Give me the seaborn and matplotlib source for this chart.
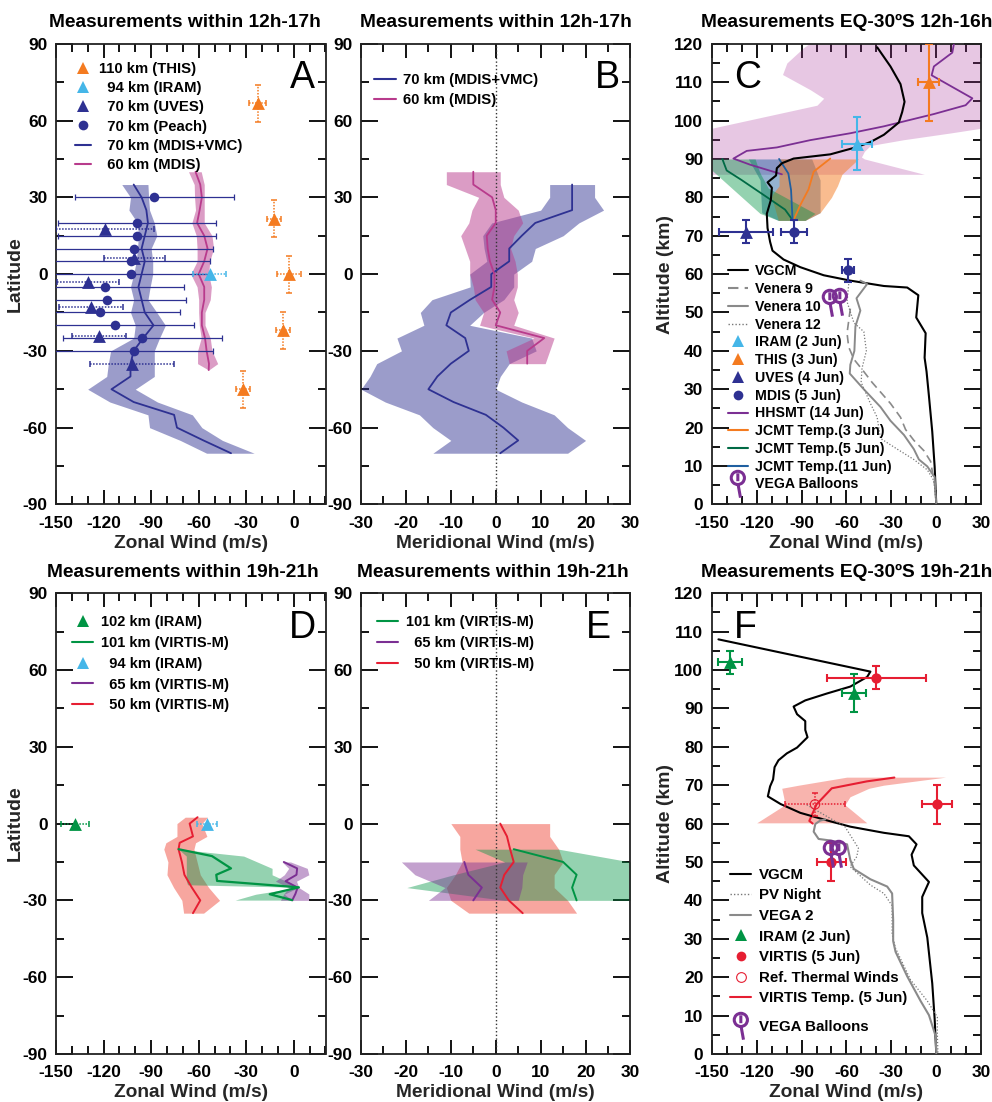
import numpy as np
import matplotlib
matplotlib.use('Agg')
import matplotlib.pyplot as plt
from matplotlib.lines import Line2D
from matplotlib.path import Path
from matplotlib.transforms import Affine2D
from matplotlib.ticker import MultipleLocator
import seaborn as sns

# ── colours ─────────────────────────────────────────────
NAVY = '#2E3192'
PINK = '#B83B8C'
ORANGE = '#F47B20'
SKY = '#45B6E8'
GREEN = '#009444'
PURPLE = '#7B2F93'
RED = '#E61E32'
SALMON = '#EE3A2A'
LILAC = '#A8329A'
TEAL = '#1F5FA0'
GREY = '#8A8A8A'

# ── Panel A / B: 12h-17h, latitude profiles ─────────────
lat70 = [35, 30, 25, 20, 15, 10, 5, 0, -5, -10, -15, -20, -25, -30, -35, -40, -45, -50, -55, -60, -65, -70]
a70_mid = [-101, -96, -93, -92, -94, -96, -94, -96, -98, -96, -94, -88.5, -95, -101, -103, -103, -115, -101, -75.5, -73.7, -57, -39.6]
a70_low = [-108.5, -103, -104, -98.6, -98, -98.6, -99.4, -101, -103, -101, -103, -100, -101, -115.5, -117, -118, -130, -116, -92, -91, -71.6, -55]
a70_high = [-92, -91.6, -91, -88, -86.4, -90, -89, -89, -90.6, -92, -86.4, -81, -84.7, -88, -88, -88, -100, -86, -64, -58, -45, -25]

lat60 = [40, 35, 30, 25, 20, 15, 10, 5, 0, -5, -10, -15, -20, -25, -30, -35, -37.5]
a60_mid = [-62, -59, -58, -59.4, -61, -56.5, -54.4, -56.5, -60, -56.5, -56.5, -58, -58, -56, -55, -53.5, -53.7]
a60_low = [-66.4, -62.8, -62.6, -62, -64.3, -61.5, -61, -61, -65, -61, -60, -60, -59.6, -58.4, -60.7, -60.7, -53.7]
a60_high = [-58.4, -56.5, -56.5, -56.5, -56.5, -51.6, -50.6, -53, -53.7, -52, -52.7, -56, -56, -52.7, -51.6, -48, -53.7]

peach_x = [-88, -99, -99, -100.7, -103, -102.6, -119, -118, -122, -113, -95.6, -100.7]
peach_lat = [30, 20, 15, 10, 5, 0, -5, -10, -15, -20, -25, -30]
peach_err = [50] * 12

uves_x = [-119, -100.7, -130, -128, -123, -102]
uves_lat = [17.7, 6.4, -3, -13, -24.2, -35]
uves_err = [31, 19.3, 19.5, 20, 17, 26.5]

this_x = [-22.8, -12.2, -3, -7, -32]
this_lat = [66.7, 21.7, 0, -22, -45]
this_xerr = [5.3, 4.4, 7.5, 4.4, 4.2]
this_yerr = [7.2, 7.2, 7.2, 7.2, 7.2]

b70_mid = [17, 17, 17, 8.8, 5.8, 3, 3, -1, -1, -5.7, -10, -11, -6.8, -6, -10, -13, -15, -9.4, -2.2, 1.7, 5, 1]
b70_low = [12, 12, 10, -0.9, -2.9, -2.6, -2, -5.8, -5.7, -14.2, -16.8, -16, -22, -21, -26.5, -28, -30, -24.6, -17, -14, -10, -14]
b70_high = [22, 22, 24, 18.5, 15, 8.8, 8, 4, 4, 1.8, -2.7, -5.8, 8, 9, 3, 1, 0, 5.8, 13, 16, 20, 16]

lat60b = [40, 35, 30, 25, 20, 15, 10, 5, 0, -5, -10, -15, -20, -25, -30, -35]
b60_mid = [-5, -5, -0.8, 0, 0, -2, -1.8, -1.3, -0.3, -0.3, -0.8, 1, 0, 10.8, 7, 7]
b60_low = [-11, -11, -3.8, -5.3, -6, -7.8, -6.8, -5.8, -5.8, -5, -4.6, -2.7, -3.6, 8.5, 2.3, 3]
b60_high = [1, 1, 1.8, 5, 6, 4, 3.3, 4.3, 4.8, 4.8, 4, 5, 4, 13, 12, 11]

# ── Panel C: EQ-30S 12h-16h, altitude profiles ──────────
vgcm_c_x = [-39.5, -30.6, -23.9, -21.2, -22.8, -25, -35, -44, -53, -70.8, -95.3, -103, -106.5, -107, -112.7, -109.8, -110.5, -113.2, -112.7, -111, -109.4, -102, -90.8, -75.2, -57.4, -35, -19.4, -12, -13.4, -7.1, -7.8, -6.5, -4.9, -2.7, -1.1, 0]
vgcm_c_z = [119.1, 114.1, 109.5, 104.9, 102.2, 99.5, 96.3, 94.4, 93.1, 91.2, 90.1, 88.9, 87.6, 85.7, 83.9, 82.5, 79.3, 75.7, 72, 68.4, 66.1, 63.8, 61.8, 59.7, 58.3, 56.9, 56.5, 54.5, 48.7, 44.6, 38.2, 34.6, 28.2, 19, 9.9, 0]
ven10_x = [-50.7, -46.2, -53.3, -50.7, -54, -54.7, -57.4, -57.8, -48.4, -37.3, -30.6, -21.6, -15, -11.6, -6, -1.1, 0]
ven10_z = [58.3, 57.4, 53.7, 50.5, 46.4, 40, 36.4, 34.1, 30, 25.4, 21.8, 18.1, 14.4, 11.7, 9.9, 7.1, 0]
ven9_x = [-57.4, -59.6, -58.5, -55, -48.4, -42.9, -30.6, -23.9, -20.5, -15, -8.3, -3.8, -0.4]
ven9_z = [51, 44.6, 41, 37.8, 34.6, 31.8, 26.3, 22.7, 19.5, 16.7, 14, 11.2, 3.5]
ven12_x = [-58.5, -59.6, -55, -48.4, -46.7, -49.6, -50.2, -44, -39.5, -37.3, -26.1, -15, -6, -1.6, 0]
ven12_z = [57.4, 52.8, 47.3, 45, 40, 35.5, 31.8, 26.3, 22.7, 17.2, 14.4, 11.7, 9, 6.2, 0]
hhsmt_x = [11.8, 10.7, -1.6, -3.1, 9.6, 24.1, 19.6, -1.6, -35, -57.4, -84.2, -106.5, -126.6, -135.5, -124.3, -103.1]
hhsmt_z = [120, 117.7, 114.1, 111.8, 109, 105.8, 104, 101.7, 98.5, 96.7, 94.9, 93, 92.1, 90.1, 88.5, 86]
hhsmt_band_z = [86, 90, 90.5, 92, 93.5, 95, 96.8, 98, 104, 105.8, 108, 112, 115, 119, 120]
hhsmt_band_low = [-150, -150, -150, -150, -150, -150, -150, -150, -79.7, -75.2, -84, -102.7, -99.8, -88.6, -85]
hhsmt_band_high = [-8, -48, -50, -48, -44, -22, 10, 30, 30, 30, 30, 30, 30, 30, 30]

jcmt3_x = [-70.8, -81.9, -85.3, -90.8, -95.3]
jcmt3_z = [90.1, 86.7, 82.1, 78, 74.1]
jcmt3_band_z = [74, 76, 80, 81, 83, 86, 90]
jcmt3_band_low = [-105.5, -107, -110, -109, -105, -105, -105]
jcmt3_band_high = [-87.6, -77.6, -70, -68.7, -66, -63, -52]
jcmt5_x = [-142.9, -140, -130, -112.2, -101, -96]
jcmt5_z = [90, 87, 84.5, 79.8, 76.8, 74.1]
jcmt5_band_z = [74, 75.8, 82.4, 85.8, 87.1, 90]
jcmt5_band_low = [-105.5, -117.7, -136.6, -146.3, -150, -150]
jcmt5_band_high = [-87.6, -81, -112.2, -117, -118.5, -121]
jcmt11_x = [-105, -98.8, -97, -96]
jcmt11_z = [90, 86.2, 81.9, 74]
jcmt11_band_z = [74, 76, 84.5, 90]
jcmt11_band_low = [-105.5, -116.6, -117.7, -125.5]
jcmt11_band_high = [-87.6, -77.6, -77.6, -83.2]

balloon_c_x = [-70.8, -64.5]
balloon_c_z = [52.5, 52.8]

# ── Panel D / E: 19h-21h, latitude profiles ─────────────
lat50 = [2.5, 0, -5, -7.5, -10, -15, -20, -25, -30, -35]
d50_mid = [-60.7, -65.7, -63.6, -72, -72.7, -70.6, -69, -64.3, -59, -63.6]
d50_low = [-68.5, -73.7, -73.7, -80.7, -82, -79.4, -80, -75.8, -70.6, -69.5]
d50_high = [-54.4, -58, -54.8, -62, -63, -61, -59, -53.7, -46.8, -56.9]

d101_lat = [-10, -12.7, -17.5, -20, -22.4, -24.9, -27.6, -29.9]
d101_mid = [-72.7, -51.6, -39.6, -48.9, -48.4, 3.2, -15.2, -1]
d101_band_lat = [-10, -12.7, -17.5, -20, -22.4, -23.9, -24.9, -27.6, -29.9]
d101_low = [-72.7, -67.8, -67.8, -67.8, -67.8, -67, 3.2, -24, -37]
d101_high = [-72.7, -31.6, -13.7, -13.7, -5.2, 0, 3.2, -6, -1]

d65_lat = [-15, -17.5, -20, -22.5, -25, -27.5, -30]
d65_mid = [-6.3, 2.1, 1.7, -5.2, 2.4, 1, -1]
d65_low = [-7.3, -3.2, -6, -11.6, -3.2, -6.3, -8.4]
d65_high = [-2, 8.5, 9.5, 1.7, 3.2, 9.5, 9.5]

e50_lat = [0, -5, -10, -15, -20, -25, -30, -35]
e50_mid = [1, 2.5, 3.2, 4, 1.9, 1, 2.9, 6]
e50_low = [-10, -8, -8, -7.5, -9, -11, -10, -6]
e50_high = [12, 12, 14, 15, 13, 13, 16, 18]
e101_lat = [-10, -15, -20, -25, -30]
e101_mid = [4, 15, 18, 17, 18]
e101_low = [-4.6, 2, -9.4, -19.8, 2]
e101_high = [14, 30, 30, 30, 30]
e65_lat = [-15, -20, -25, -30]
e65_mid = [-7, -6.1, -3.1, -5]
e65_low = [-21, -18, -11.3, -15]
e65_high = [7, 6, 5.8, 5]

# ── Panel F: EQ-30S 19h-21h, altitude profiles ──────────
vgcm_f_x = [-145.5, -44, -46.2, -57.4, -73, -87.5, -95.3, -93, -87.5, -87.5, -86, -93, -99.8, -105.4, -108, -109, -111, -112.5, -104, -90.8, -70.8, -57.4, -35, -18.3, -13.2, -16.5, -15, -4.9, -9.4, -9.4, -6, -2.7, -1.1, 0]
vgcm_f_z = [108, 99.6, 98.2, 95.7, 93.9, 92.1, 90.5, 88.5, 86.7, 84.4, 82.5, 79.8, 78.3, 76.5, 74.7, 71.5, 69.7, 67.1, 65.1, 62.8, 60.6, 59.2, 57.6, 56.7, 54.6, 51.9, 49.1, 44.8, 40.9, 36.7, 30.3, 18.4, 9.2, 0]
vega2_x = [-74.1, -77.5, -80.8, -81.9, -78.6, -70.8, -59.6, -57.4, -55.1, -44, -32.8, -29.5, -28.8, -28.8, -27.2, -19.4, -10.5, -4.9, -0.4, 0]
vega2_z = [61.1, 60.8, 59.9, 57.9, 56, 55.6, 54.6, 50.5, 48.2, 45.5, 43.6, 41.8, 34.9, 29.4, 26.6, 20.2, 13.8, 10.1, 4.6, 0]
pv_x = [-86.5, -71, -61, -52, -53.1, -57.6, -44, -35, -29.5, -29.5, -27.2, -17.2, -6, 0.7, 0.7, 1.1]
pv_z = [64.9, 61.4, 59.2, 53.6, 51.4, 48.8, 44, 41.8, 38.6, 31.2, 27.5, 19.3, 13.8, 9.6, 5.5, 0]
vtemp_x = [-28, -46.4, -69.8, -80, -84.8, -82.5]
vtemp_z = [72, 71, 69.2, 65, 60.7, 60]
vtemp_band_z = [60.2, 64.9, 67, 69.2, 70, 72.1]
vtemp_band_low = [-119.9, -101, -102, -103.2, -92, -59.8]
vtemp_band_high = [-46.4, -61, -57.6, -45, -35.3, 6.2]

virtis_x = [0.2, -70, -40]
virtis_z = [65, 50, 98]
virtis_xerr = [10, 10, 33]
virtis_zerr = [5, 5, 3]
iram_f_x = [-138, -54.7]
iram_f_z = [102, 94]
iram_f_xerr = [8, 8]
iram_f_zerr = [3, 5]
balloon_f_x = [-70.3, -64.7]
balloon_f_z = [52, 52]

sns.set_theme(style='ticks')
plt.rcParams.update({
    'font.family': ['Liberation Sans', 'DejaVu Sans'],
    'font.weight': 'bold',
    'axes.titleweight': 'bold',
    'axes.labelweight': 'bold',
    'axes.edgecolor': '#222222',
    'axes.linewidth': 1.3,
    'axes.unicode_minus': False,
    'xtick.color': 'black',
    'ytick.color': 'black',
    'text.color': 'black',
})

# balloon glyph used as a marker: open head, small inner mark, stick below
_head = Path.unit_circle().transformed(Affine2D().scale(0.5).translate(-0.05, 0.5))
_inner = Path([(-0.05, 0.85), (-0.05, 0.25)], [Path.MOVETO, Path.LINETO])
_stick = Path([(-0.03, 0.0), (0.15, -1.0)], [Path.MOVETO, Path.LINETO])
BALLOON = Path.make_compound_path(_head, _inner, _stick)

W, H = 992, 1102
XA, XB, XC = 56, 361, 711.7
AW = 269.5
AH = 460.6
ROW1, ROW2 = 43.8, 593.3


def panel(x0, y0, xlim, ylim, xmaj, xmin, ymaj, ymin, title, xlabel, ylabel, letter, lpos, title_x=0.5, ylab_x=-0.119):
    ax = fig.add_axes([x0 / W, 1 - (y0 + AH) / H, AW / W, AH / H])
    ax.set_xlim(*xlim)
    ax.set_ylim(*ylim)
    ax.xaxis.set_major_locator(MultipleLocator(xmaj))
    ax.xaxis.set_minor_locator(MultipleLocator(xmin))
    ax.yaxis.set_major_locator(MultipleLocator(ymaj))
    ax.yaxis.set_minor_locator(MultipleLocator(ymin))
    ax.tick_params(axis='x', which='major', direction='in', top=True, length=10, width=1.3, labelsize=12.5, pad=8)
    ax.tick_params(axis='x', which='minor', direction='in', top=True, length=5.5, width=1.3)
    ax.tick_params(axis='y', which='major', direction='in', right=True, length=12, width=1.3, labelsize=12.5, pad=6)
    ax.tick_params(axis='y', which='minor', direction='in', right=True, length=6, width=1.3)
    ax.set_title(title, fontsize=13.8, x=title_x, pad=12)
    ax.set_xlabel(xlabel, fontsize=13.8, labelpad=3)
    if ylabel:
        ax.set_ylabel(ylabel, fontsize=14)
        ax.yaxis.set_label_coords(ylab_x, 0.5)
    ax.text(lpos[0], lpos[1], letter, transform=ax.transAxes, fontsize=27, fontweight='normal',
            ha='center', va='center', zorder=10)
    return ax


def band(ax, z, low, high, color, alpha):
    ax.fill_betweenx(z, low, high, color=color, alpha=alpha, linewidth=0, zorder=1)


def curve(ax, x, y, color, lw=1.3, ls='-'):
    sns.lineplot(x=x, y=y, sort=False, estimator=None, ax=ax, color=color, linewidth=lw,
                 linestyle=ls, legend=False, zorder=3)


def points(ax, x, y, color, marker, xerr=None, yerr=None, dotted=False, size=80, lw=1.5, cap=3, fill=True):
    eb = ax.errorbar(x, y, xerr=xerr, yerr=yerr, fmt='none', ecolor=color, elinewidth=lw,
                     capsize=cap, capthick=lw, zorder=4)
    if dotted:
        for bar in eb[2]:
            bar.set_linestyle((0, (1, 1)))
    if fill:
        sns.scatterplot(x=x, y=y, ax=ax, color=color, marker=marker, s=size, linewidth=0, legend=False, zorder=5)
    else:
        ax.scatter(x, y, s=size, marker=marker, facecolors='none', edgecolors=color, linewidths=0.8, zorder=5)


def balloons(ax, x, y):
    ax.plot(x, y, ls='none', marker=BALLOON, ms=19, mfc='none', mec=PURPLE, mew=2.2, zorder=6)


def ln(color, ls='-', lw=1.5):
    return Line2D([], [], color=color, ls=ls, lw=lw)


def mk(color, marker, size=9, fill=True):
    return Line2D([], [], ls='none', marker=marker, ms=size, color=color,
                  mfc=color if fill else 'none', mew=0 if fill else 0.8)


def legend(ax, handles, labels, x, y, spacing, hlen, pad=0.5, add=False, size=10.2):
    leg = ax.legend(handles, labels, loc='upper left', bbox_to_anchor=(x, y), borderaxespad=0, borderpad=0,
                    frameon=False, labelspacing=spacing, handlelength=hlen, handletextpad=pad,
                    prop={'family': 'Liberation Sans', 'weight': 'bold', 'size': size})
    leg.set_zorder(8)
    if add:
        ax.add_artist(leg)
    return leg


balloon_handle = Line2D([], [], ls='none', marker=BALLOON, ms=19, mfc='none', mec=PURPLE, mew=2.2)

fig = plt.figure(figsize=(W / 100, H / 100), dpi=100, facecolor='white')

# — Panel A ————————————————————————————————
ax = panel(XA, ROW1, (-150, 20), (-90, 90), 30, 10, 30, 15, 'Measurements within 12h-17h',
           'Zonal Wind (m/s)', 'Latitude', 'A', (0.915, 0.925), title_x=0.48)
band(ax, lat70, a70_low, a70_high, NAVY, 0.48)
band(ax, lat60, a60_low, a60_high, PINK, 0.5)
curve(ax, a70_mid, lat70, NAVY)
curve(ax, a60_mid, lat60, PINK)
points(ax, peach_x, peach_lat, NAVY, 'o', xerr=peach_err, size=48, lw=0.9, cap=2)
points(ax, uves_x, uves_lat, NAVY, '^', xerr=uves_err, dotted=True, size=85, lw=1.1, cap=2)
points(ax, [-53], [0], SKY, '^', xerr=[10.5], dotted=True, size=85, lw=1.1, cap=2)
points(ax, this_x, this_lat, ORANGE, '^', xerr=this_xerr, yerr=this_yerr, dotted=True, size=85, lw=1.1, cap=2)
legend(ax, [mk(ORANGE, '^'), mk(SKY, '^'), mk(NAVY, '^'), mk(NAVY, 'o', 7), ln(NAVY), ln(PINK)],
       ['110 km (THIS)', '  94 km (IRAM)', '  70 km (UVES)', '  70 km (Peach)', '  70 km (MDIS+VMC)', '  60 km (MDIS)'],
       0.07, 0.961, 0.355, 1.1, size=10.7)

# — Panel B ————————————————————————————————
ax = panel(XB, ROW1, (-30, 30), (-90, 90), 10, 5, 30, 15, 'Measurements within 12h-17h',
           'Meridional Wind (m/s)', None, 'B', (0.915, 0.925))
ax.axvline(0, color='#333333', ls=':', lw=1, zorder=2)
band(ax, lat70, b70_low, b70_high, NAVY, 0.48)
band(ax, lat60b, b60_low, b60_high, PINK, 0.5)
curve(ax, b70_mid, lat70, NAVY)
curve(ax, b60_mid, lat60b, PINK)
legend(ax, [ln(NAVY), ln(PINK)], ['70 km (MDIS+VMC)', '60 km (MDIS)'], 0.05, 0.936, 0.38, 1.45, size=10.7)

# — Panel C ————————————————————————————————
ax = panel(XC, ROW1, (-150, 30), (0, 120), 30, 10, 10, 5, 'Measurements EQ-30ºS 12h-16h',
           'Zonal Wind (m/s)', 'Altitude (km)', 'C', (0.135, 0.925), ylab_x=-0.14)
band(ax, hhsmt_band_z, hhsmt_band_low, hhsmt_band_high, LILAC, 0.27)
band(ax, jcmt11_band_z, jcmt11_band_low, jcmt11_band_high, TEAL, 0.48)
band(ax, jcmt3_band_z, jcmt3_band_low, jcmt3_band_high, ORANGE, 0.5)
band(ax, jcmt5_band_z, jcmt5_band_low, jcmt5_band_high, GREEN, 0.42)
curve(ax, hhsmt_x, hhsmt_z, PURPLE)
curve(ax, jcmt3_x, jcmt3_z, ORANGE)
curve(ax, jcmt5_x, jcmt5_z, '#006A45')
curve(ax, jcmt11_x, jcmt11_z, TEAL)
curve(ax, vgcm_c_x, vgcm_c_z, 'black', lw=1.5)
curve(ax, ven9_x, ven9_z, GREY, lw=1.2, ls=(0, (5, 3)))
curve(ax, ven10_x, ven10_z, GREY, lw=1.4)
curve(ax, ven12_x, ven12_z, '#777777', lw=0.9, ls=(0, (1, 1.5)))
points(ax, [-4.9], [110], ORANGE, '^', xerr=[7], yerr=[10], size=85)
points(ax, [-53], [94], SKY, '^', xerr=[10], yerr=[7], size=85)
points(ax, [-127], [71], NAVY, '^', xerr=[18.2], yerr=[3], size=85)
points(ax, [-95, -59], [71, 61], NAVY, 'o', xerr=[8.4, 4.2], yerr=[3, 3], size=55)
balloons(ax, balloon_c_x, balloon_c_z)
legend(ax, [ln('black'), ln(GREY, (0, (5, 3))), ln(GREY), ln('#777777', (0, (1, 1.5)), 1), mk(SKY, '^'), mk(ORANGE, '^'),
            mk(NAVY, '^'), mk(NAVY, 'o', 7), ln(PURPLE), ln(ORANGE), ln('#006A45'), ln(TEAL), balloon_handle],
       ['VGCM', 'Venera 9', 'Venera 10', 'Venera 12', 'IRAM (2 Jun)', 'THIS (3 Jun)', 'UVES (4 Jun)', 'MDIS (5 Jun)',
        'HHSMT (14 Jun)', 'JCMT Temp.(3 Jun)', 'JCMT Temp.(5 Jun)', 'JCMT Temp.(11 Jun)', 'VEGA Balloons'],
       0.06, 0.521, 0.265, 1.4, pad=0.5)

# — Panel D ————————————————————————————————
ax = panel(XA, ROW2, (-150, 20), (-90, 90), 30, 10, 30, 15, 'Measurements within 19h-21h',
           'Zonal Wind (m/s)', 'Latitude', 'D', (0.915, 0.925), title_x=0.47)
band(ax, lat50, d50_low, d50_high, SALMON, 0.45)
band(ax, d101_band_lat, d101_low, d101_high, GREEN, 0.42)
band(ax, d65_lat, d65_low, d65_high, PURPLE, 0.45)
curve(ax, d50_mid, lat50, RED, lw=1.4)
curve(ax, d65_mid, d65_lat, PURPLE, lw=1.4)
curve(ax, d101_mid, d101_lat, GREEN, lw=1.6)
points(ax, [-138], [0], GREEN, '^', xerr=[8.6], dotted=True, size=85, lw=1.1, cap=2)
points(ax, [-54.8], [0], SKY, '^', xerr=[6.3], dotted=True, size=85, lw=1.1, cap=2)
legend(ax, [mk(GREEN, '^'), ln(GREEN), mk(SKY, '^'), ln(PURPLE), ln(RED)],
       ['102 km (IRAM)', '101 km (VIRTIS-M)', '  94 km (IRAM)', '  65 km (VIRTIS-M)', '  50 km (VIRTIS-M)'],
       0.061, 0.953, 0.47, 1.42, pad=0.55, size=10.5)

# — Panel E ————————————————————————————————
ax = panel(XB, ROW2, (-30, 30), (-90, 90), 10, 5, 30, 15, 'Measurements within 19h-21h',
           'Meridional Wind (m/s)', None, 'E', (0.88, 0.925), title_x=0.49)
ax.axvline(0, color='#333333', ls=':', lw=1, zorder=2)
band(ax, e50_lat, e50_low, e50_high, SALMON, 0.45)
band(ax, e101_lat, e101_low, e101_high, GREEN, 0.42)
band(ax, e65_lat, e65_low, e65_high, PURPLE, 0.45)
curve(ax, e50_mid, e50_lat, RED, lw=1.4)
curve(ax, e65_mid, e65_lat, PURPLE, lw=1.4)
curve(ax, e101_mid, e101_lat, GREEN, lw=1.4)
legend(ax, [ln(GREEN), ln(PURPLE), ln(RED)], ['101 km (VIRTIS-M)', '  65 km (VIRTIS-M)', '  50 km (VIRTIS-M)'],
       0.06, 0.953, 0.47, 1.45, pad=0.55, size=10.5)

# — Panel F ————————————————————————————————
ax = panel(XC, ROW2, (-150, 30), (0, 120), 30, 10, 10, 5, 'Measurements EQ-30ºS 19h-21h',
           'Zonal Wind (m/s)', 'Altitude (km)', 'F', (0.125, 0.925), ylab_x=-0.14)
band(ax, vtemp_band_z, vtemp_band_low, vtemp_band_high, SALMON, 0.38)
curve(ax, vtemp_x, vtemp_z, RED, lw=1.5)
curve(ax, vgcm_f_x, vgcm_f_z, 'black', lw=1.5)
curve(ax, pv_x, pv_z, '#777777', lw=0.9, ls=(0, (1, 1.5)))
curve(ax, vega2_x, vega2_z, GREY, lw=1.5)
points(ax, iram_f_x, iram_f_z, GREEN, '^', xerr=iram_f_xerr, yerr=iram_f_zerr, size=85)
points(ax, [-81], [65], RED, 'o', xerr=[20], yerr=[3], dotted=True, size=45, lw=1.1, cap=2, fill=False)
balloons(ax, balloon_f_x, balloon_f_z)
points(ax, virtis_x, virtis_z, RED, 'o', xerr=virtis_xerr, yerr=virtis_zerr, size=55)
legend(ax, [ln('black'), ln('#777777', (0, (1, 1.5)), 1), ln(GREY), mk(GREEN, '^'), mk(RED, 'o', 7), mk(RED, 'o', 7, fill=False), ln(RED)],
       ['VGCM', 'PV Night', 'VEGA 2', 'IRAM (2 Jun)', 'VIRTIS (5 Jun)', 'Ref. Thermal Winds', 'VIRTIS Temp. (5 Jun)'],
       0.068, 0.404, 0.44, 1.4, pad=0.55, add=True, size=10.8)
legend(ax, [balloon_handle], ['VEGA Balloons'], 0.068, 0.073, 0.4, 1.4, pad=0.55, size=10.8)

fig.savefig('out.png', dpi=100)
